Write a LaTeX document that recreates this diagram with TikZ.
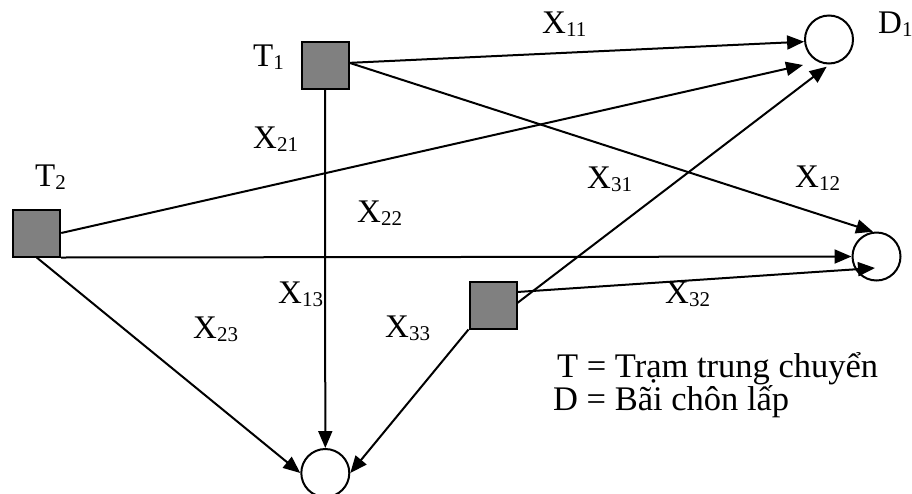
\documentclass[tikz,border=0pt]{standalone}
\usepackage{fontspec}
\setmainfont{Liberation Serif}
\usetikzlibrary{arrows.meta}
\definecolor{sqgray}{HTML}{808080}
\newcommand\sbs[1]{\raisebox{-3.5pt}{\fontsize{21}{21}\selectfont #1}}
\begin{document}
\begin{tikzpicture}[x=1pt,y=-1pt,
  sq/.style={rectangle, draw, fill=sqgray, line width=2pt, minimum size=47pt, inner sep=0pt},
  dst/.style={circle, draw, fill=white, line width=2pt, minimum size=48pt, inner sep=0pt},
  flow/.style={line width=2pt, -{Triangle[length=17pt,width=14pt]}},
  lbl/.style={anchor=base west, inner sep=0pt, font=\fontsize{33}{34}\selectfont},
  leg/.style={anchor=base west, inner sep=0pt, font=\fontsize{34.5}{35}\selectfont}]
\useasboundingbox (0,0) rectangle (912,493);
% nodes
\node[sq] (t1) at (325,65) {};
\node[sq] (t2) at (36.7,233) {};
\node[sq] (t3) at (493,305) {};
\node[dst] (d1) at (829,39.5) {};
\node[dst] (d2) at (876.5,256.5) {};
\node[dst] (d3) at (325.3,473) {};
\coordinate (e21) at (803,65);
\coordinate (e31) at (826.7,66.7);
\coordinate (e32) at (875,268);
% connectors
\draw[flow] (t1.5) -- (d1.185);
\draw[flow] (t1.5) -- (d2.98);
\draw[flow] (t1.south) -- (d3.north);
\draw[flow] (t2.east) -- (e21);
\draw[flow] (t2.south east) -- (d2.west);
\draw[flow] (t2.south) -- (d3.west);
\draw[flow] (t3.5) -- (e31);
\draw[flow] (t3.28) -- (e32);
\draw[flow] (t3.south west) -- (d3.east);
% labels
\node[lbl] (lt1) at (253,66) {T\sbs{1}};
\node[lbl] (lt2) at (35,186) {T\sbs{2}};
\node[lbl] (ld1) at (878,33) {D\sbs{1}};
\node[lbl] (x11) at (542,33) {X\sbs{11}};
\node[lbl] (x21) at (253,148) {X\sbs{21}};
\node[lbl] (x31) at (587,188) {X\sbs{31}};
\node[lbl] (x12) at (795,187) {X\sbs{12}};
\node[lbl] (x22) at (357,222) {X\sbs{22}};
\node[lbl] (x13) at (278,303) {X\sbs{13}};
\node[lbl] (x23) at (193,338) {X\sbs{23}};
\node[lbl] (x33) at (385,337) {X\sbs{33}};
\node[lbl] (x32) at (665,303) {X\sbs{32}};
\node[leg] (leg1) at (557,377) {T = Trạm trung chuyển};
\node[leg] (leg2) at (553,410) {D = Bãi chôn lấp};
\end{tikzpicture}
\end{document}
